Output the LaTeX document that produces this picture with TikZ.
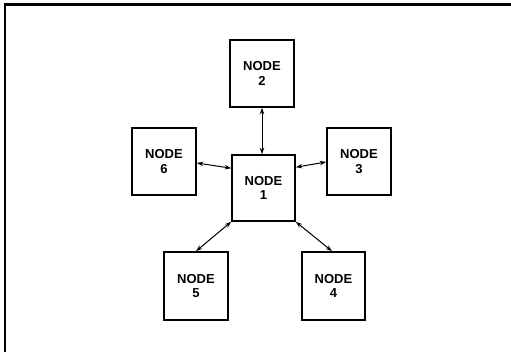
\documentclass[tikz,border=0pt]{standalone}
\usepackage{fontspec}
\setmainfont{Liberation Sans}
\usetikzlibrary{arrows.meta,calc}
\tikzset{
  nodebox/.style={draw, line width=1.6pt, minimum width=64pt, minimum height=67pt, inner sep=0pt, align=center,
    font=\fontsize{13}{14.5}\selectfont\bfseries},
  link/.style={line width=1pt, {Stealth[length=6.5pt,width=4.5pt]}-{Stealth[length=6.5pt,width=4.5pt]}}
}
\begin{document}
\begin{tikzpicture}[x=1pt,y=-1pt]
\useasboundingbox (0,0) rectangle (511,352);
\draw[line width=2.2pt] (511,4.5) -- (5,4.5) -- (5,352);
\node[nodebox] (n2) at (262,73.5) {NODE\\2};
\node[nodebox] (n6) at (164,161.5) {NODE\\6};
\node[nodebox, minimum width=63pt, minimum height=66pt] (n1) at (263.5,188) {NODE\\1};
\node[nodebox] (n3) at (359,161.5) {NODE\\3};
\node[nodebox, minimum height=68pt] (n5) at (196,286) {NODE\\5};
\node[nodebox, minimum width=63pt, minimum height=68pt] (n4) at (333.5,286) {NODE\\4};
\draw[link] (n2.south) -- (n2.south |- n1.north);
\draw[link] ($(n6.east)+(0,1.5)$) -- ($(n1.north west)+(0,14)$);
\draw[link] ($(n1.north east)+(0,13)$) -- ($(n3.west)+(0,0.5)$);
\draw[link] (n1.south west) -- (n5.north);
\draw[link] (n1.south east) -- ($(n4.north)+(-1.5,0)$);
\end{tikzpicture}
\end{document}
